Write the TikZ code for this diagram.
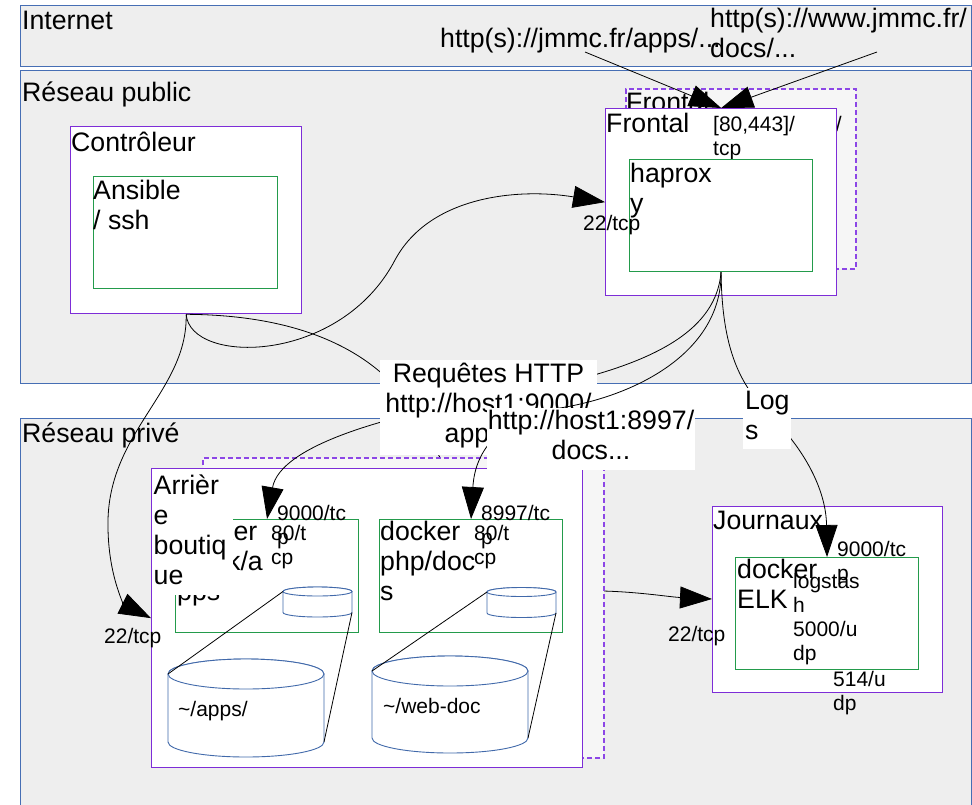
\documentclass[tikz,border=0pt]{standalone}
\usepackage{fontspec}
\setmainfont{Liberation Sans}
\usetikzlibrary{arrows.meta}

\definecolor{bandfill}{RGB}{238,238,238}
\definecolor{bandline}{RGB}{70,110,180}
\definecolor{hostline}{RGB}{125,45,215}
\definecolor{ghostline}{RGB}{140,70,230}
\definecolor{ghostfill}{RGB}{246,246,246}
\definecolor{dockline}{RGB}{35,155,75}
\definecolor{volline}{RGB}{65,105,170}

\newcommand\fsbig{\fontsize{26.7pt}{30pt}\selectfont}
\newcommand\fssmall{\fontsize{21pt}{24pt}\selectfont}

% storage volume: name, centre x, top y, bottom y, x radius, y radius
\newcommand\drawvol[6]{%
  \path[vol] (#2-#5,#3) -- (#2-#5,#4)
    arc[start angle=180,end angle=360,x radius=#5pt,y radius=#6pt]
    -- (#2+#5,#3)
    arc[start angle=0,end angle=180,x radius=#5pt,y radius=#6pt] -- cycle;
  \draw[vol] (#2,#3) ellipse[x radius=#5pt,y radius=#6pt];
  \coordinate (#1-tl) at (#2-#5,#3);
  \coordinate (#1-br) at (#2+#5,#4);
}

\begin{document}
\begin{tikzpicture}[x=1pt,y=-1pt,
  band/.style={draw=bandline, fill=bandfill, line width=1pt, anchor=north west, inner sep=0},
  host/.style={draw=hostline, fill=white, line width=1.3pt, anchor=north west, inner sep=0},
  ghost/.style={draw=ghostline, fill=ghostfill, dash pattern=on 5pt off 3pt, line width=1.5pt, anchor=north west, inner sep=0},
  dock/.style={draw=dockline, fill=white, line width=1.1pt, anchor=north west, inner sep=0},
  txt/.style={inner sep=0, anchor=north west, align=left, font=\fsbig, execute at begin node=\strut},
  port/.style={inner sep=0, anchor=north west, align=left, font=\fssmall, execute at begin node=\strut},
  tag/.style={fill=white, inner sep=0, align=center, font=\fsbig, execute at begin node=\strut, execute at end node=\strut},
  link/.style={draw=black, line width=0.8pt},
  arr/.style={link, -{Triangle[length=32pt,width=22pt]}},
  vol/.style={draw=volline, fill=white, line width=0.9pt},
]
\clip (0,0) rectangle (972,804);
\fill[white] (0,0) rectangle (972,804);

% network zones
\node[band, minimum width=951pt, minimum height=61pt] (inet) at (20,5) {};
\node[band, minimum width=951pt, minimum height=313pt] (pub) at (20,70) {};
\node[band, minimum width=951pt, minimum height=400pt] (priv) at (20,418) {};
\node[txt] (inetlbl) at (22,8) {Internet};
\node[txt] (publbl) at (22,80) {Réseau public};
\node[txt] (privlbl) at (22,421) {Réseau privé};
\node[txt] (urlapps) at (440,26) {http(s)://jmmc.fr/apps/...};
\node[txt] (urldocs) at (710,8) {http(s)://www.jmmc.fr/\\docs/...};
\coordinate (u1) at (585,52);
\coordinate (u2) at (877,52);

% controller
\node[host, minimum width=231pt, minimum height=187pt] (ctrl) at (70,126) {};
\node[txt] (ctrllbl) at (71,130) {Contrôleur};
\node[dock, minimum width=184pt, minimum height=112pt] (ans) at (93,176) {};
\node[txt] (anslbl) at (93,180) {Ansible\\/ ssh};

% standby front-end
\node[ghost, minimum width=230pt, minimum height=180pt] (frontb) at (625,88) {};
\node[txt] (frontblbl) at (626,90) {Frontal};
\node[port, anchor=north east] (frontbport) at (842,114) {[80,443]/};

% front-end
\node[host, minimum width=231pt, minimum height=187pt] (front) at (605,108) {};
\node[txt] (frontlbl) at (606,111) {Frontal};
\node[port] (frontport) at (713,116) {[80,443]/\\tcp};
\node[dock, minimum width=183pt, minimum height=112pt] (hap) at (629,159) {};
\node[txt] (haplbl) at (630,163) {haprox\\y};

% ssh towards the log host, passing behind the back office
\draw[arr] (ctrl.south) .. controls (300,315) and (380,350) .. (420,420)
  .. controls (460,500) and (520,590) .. (603,591)
  .. controls (640,592) and (670,597) .. (712,599);

% back office
\node[ghost, minimum width=401pt, minimum height=300pt] (backb) at (202,457) {};
\node[host, minimum width=431pt, minimum height=299pt] (back) at (151,468) {};
\node[dock, minimum width=183pt, minimum height=113pt] (dapps) at (175,519) {};
\node[txt] (dappslbl) at (177,521) {docker\\\hspace*{50pt}k/a\\pps};
\node[dock, minimum width=183pt, minimum height=113pt] (dphp) at (379,519) {};
\node[txt] (dphplbl) at (380,521) {docker\\php/doc\\s};

% mounted volumes
\drawvol{vsa}{317.5}{591.5}{612.5}{34.5}{4.5}
\drawvol{vsp}{521.5}{592}{613}{34.5}{4.5}
\drawvol{vba}{246}{674}{742}{78}{15}
\drawvol{vbp}{450}{671}{738}{78}{15}
\draw[link] (vsa-tl) -- (vba-tl);
\draw[link] (vsa-br) -- (vba-br);
\draw[link] (vsp-tl) -- (vbp-tl);
\draw[link] (vsp-br) -- (vbp-br);
\node[port, anchor=base west] (vbalbl) at (178,716) {\~{}/apps/};
\node[port, anchor=base west] (vbplbl) at (383,713) {\~{}/web-doc};

% log host
\node[host, minimum width=230pt, minimum height=186pt] (jour) at (712,506) {};
\node[txt] (jourlbl) at (713,508) {Journaux};
\node[dock, minimum width=183pt, minimum height=112pt] (elk) at (735,557) {};
\node[txt] (elklbl) at (737,559) {docker\\ELK};

% incoming web traffic
\draw[arr] (u1) -- (front.north);
\draw[arr] (u2) -- (front.north);

% controller links
\draw[arr] (ctrl.south) .. controls (190,365) and (340,365) .. (395,260)
  .. controls (430,195) and (520,188) .. (front.west);
\draw[arr] (ctrl.south) .. controls (188,390) and (110,430) .. (108,520)
  .. controls (107,575) and (125,605) .. (back.west);

% proxy to application containers and logs
\draw[arr] (hap.south) .. controls (715,345) and (620,375) .. (490,398)
  .. controls (390,415) and (280,445) .. (dapps.north);
\draw[arr] (hap.south) .. controls (722,350) and (740,385) .. (770,415)
  .. controls (805,450) and (826,490) .. (elk.north);

% ports
\node[port] (p22a) at (583,213) {22/tcp};
\node[port] (p22b) at (104,626) {22/tcp};
\node[port] (p22c) at (668,624) {22/tcp};
\node[port] (pappsa) at (277,505) {9000/tc\\p};
\node[port] (pappsb) at (271,525) {80/t\\cp};
\node[port] (pphpa) at (481,505) {8997/tc\\p};
\node[port] (pphpb) at (474,525) {80/t\\cp};
\node[port] (pelka) at (837,541) {9000/tc\\p};
\node[port] (pelkb) at (793,573) {logstas\\h\\5000/u\\dp};
\node[port] (pelkc) at (833,671) {514/u\\dp};

\node[txt, fill=white, inner sep=1.5pt, text width=78pt] (backlbl) at (152,472) {Arrièr\\e\\boutiq\\ue\strut};

% connector labels
\node[tag, minimum width=217pt, minimum height=95pt] (req) at (488.5,407.5) {Requêtes HTTP\\http://host1:9000/\\apps/...};
\draw[arr] (hap.south) .. controls (722,350) and (640,395) .. (560,408)
  .. controls (500,418) and (475,450) .. (dphp.north);
\node[tag, minimum width=208pt, minimum height=62pt] (reqdoc) at (591,439) {http://host1:8997/\\docs...};
\node[tag, align=left, text width=44pt, inner xsep=2pt, minimum height=61pt] (logs) at (767,418.5) {Log\\s};
\end{tikzpicture}
\end{document}
